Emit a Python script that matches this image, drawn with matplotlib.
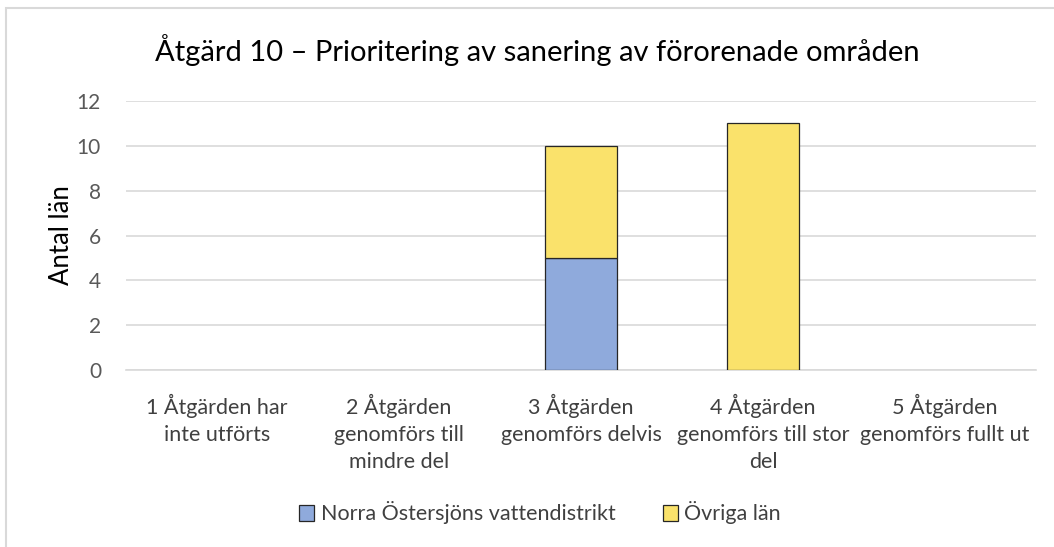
import matplotlib.pyplot as plt
import matplotlib.patches as mpatches
import numpy as np

plt.rcParams['font.family'] = ['Lato', 'DejaVu Sans']

categories = ["1 Åtgärden har\ninte utförts",
              "2 Åtgärden\ngenomförs till\nmindre del",
              "3 Åtgärden\ngenomförs delvis",
              "4 Åtgärden\ngenomförs till stor\ndel",
              "5 Åtgärden\ngenomförs fullt ut"]
norra = [0, 0, 5, 0, 0]
ovriga = [0, 0, 5, 11, 0]
series_names = ["Norra Östersjöns vattendistrikt", "Övriga län"]

fig = plt.figure(figsize=(10.54, 5.47), dpi=100)
ax = fig.add_axes([126/1054, 1 - 370/547, 910/1054, 269/547])

x = np.arange(len(categories))
n = np.array(norra)
o = np.array(ovriga)
ax.bar(x, n, width=0.4, color="#8FAADC", edgecolor="#262626",
       linewidth=np.where(n > 0, 0.9, 0), label=series_names[0], zorder=3)
ax.bar(x, o, width=0.4, bottom=n, color="#FAE26B", edgecolor="#262626",
       linewidth=np.where(o > 0, 0.9, 0), label=series_names[1], zorder=3)

ax.set_xlim(-0.5, len(categories) - 0.5)
ax.set_ylim(0, 12)
ax.set_yticks(range(0, 13, 2))
ax.yaxis.grid(True, color="#D9D9D9", linewidth=1.2, zorder=0)
ax.set_axisbelow(True)
for s in ["top", "right", "left"]:
    ax.spines[s].set_visible(False)
ax.spines["bottom"].set_color("#D9D9D9")
ax.spines["bottom"].set_linewidth(1.2)
ax.tick_params(length=0)
ax.tick_params(axis="y", pad=18, labelsize=15, labelcolor="#595959")
ax.tick_params(axis="x", pad=17, labelsize=15.5, labelcolor="#404040")
ax.set_xticks(x)
ax.set_xticklabels(categories, linespacing=1.45)
ax.set_ylabel("Antal län", fontsize=18.5, color="black", labelpad=2)

fig.text(537/1054, 1 - 50/547, "Åtgärd 10 – Prioritering av sanering av förorenade områden",
         ha="center", va="center", fontsize=21, color="black")

h1 = mpatches.Patch(facecolor="#8FAADC", edgecolor="#262626", linewidth=0.9)
h2 = mpatches.Patch(facecolor="#FAE26B", edgecolor="#262626", linewidth=0.9)
fig.legend([h1, h2], series_names, loc="center", bbox_to_anchor=(540/1054, 1 - 513/547),
           ncol=2, frameon=False, fontsize=15.5, handlelength=0.7, handleheight=0.7,
           handletextpad=0.3, columnspacing=2.2, labelcolor="#404040")

# chart border (only top and left edges visible)
fig.patches.append(mpatches.Rectangle((6/1054, -0.1), 1.2, 1.1 - 8/547,
                                      transform=fig.transFigure, fill=False,
                                      edgecolor="#D9D9D9", linewidth=1.5))

fig.savefig("out.png", dpi=100)
